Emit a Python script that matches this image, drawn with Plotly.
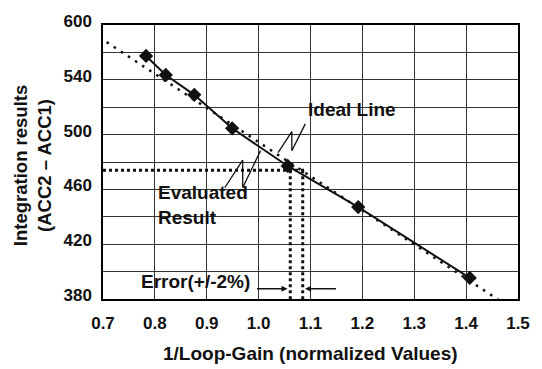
import plotly.graph_objects as go

# ---- data ----
loop_gain = [0.783, 0.821, 0.876, 0.949, 1.056, 1.192, 1.407]
integration = [557.4, 543.5, 529.0, 504.6, 477.1, 447.1, 395.4]

ideal_x = [0.707, 1.47]
ideal_y = [567.5, 377.5]

eval_level = 474.0
error_band = [1.061, 1.085]

x_ticks = [0.7, 0.8, 0.9, 1.0, 1.1, 1.2, 1.3, 1.4, 1.5]
x_ticktext = ["0.7", "0.8", "0.9", "1.0", "1.1", "1.2", "1.3", "1.4", "1.5"]
y_ticks = [380, 400, 420, 440, 460, 480, 500, 520, 540, 560, 580]
y_ticktext = ["380", "", "420", "", "460", "", "500", "", "540", "", "600"]

FONT = "Liberation Sans, Arial, sans-serif"
INK = "#111111"

fig = go.Figure()

# ideal dotted line
fig.add_trace(go.Scatter(x=ideal_x, y=ideal_y, mode="lines",
                         line=dict(color=INK, width=2.5, dash="2.5px,6px"),
                         hoverinfo="skip", showlegend=False))

# evaluated-result guide lines
fig.add_trace(go.Scatter(x=[0.7, error_band[1] + 0.003], y=[eval_level, eval_level],
                         mode="lines", line=dict(color=INK, width=3, dash="3px,3px"),
                         showlegend=False, hoverinfo="skip"))
for xv in error_band:
    fig.add_trace(go.Scatter(x=[xv, xv], y=[eval_level, 378], mode="lines",
                             line=dict(color=INK, width=3, dash="3px,3px"),
                             showlegend=False, hoverinfo="skip"))

# measured curve
fig.add_trace(go.Scatter(x=loop_gain, y=integration, mode="lines+markers",
                         line=dict(color=INK, width=2),
                         marker=dict(symbol="diamond", size=11, color=INK),
                         showlegend=False))

# callout zigzags
fig.add_trace(go.Scatter(x=[1.0375, 1.064, 1.064, 1.090], y=[486.9, 502.2, 488.2, 507.8],
                         mode="lines", line=dict(color=INK, width=1.3),
                         showlegend=False, hoverinfo="skip"))
fig.add_trace(go.Scatter(x=[0.9347, 0.9693, 0.9693, 1.0037], y=[461.2, 481.3, 461.2, 488.3],
                         mode="lines", line=dict(color=INK, width=1.3),
                         showlegend=False, hoverinfo="skip"))

ann_font = dict(family=FONT, size=19, color=INK)
annotations = [
    dict(x=1.091, y=515.5, xref="x", yref="y", text="<b>Ideal Line</b>", yshift=4,
         showarrow=False, xanchor="left", yanchor="middle", font=ann_font),
    dict(x=0.803, y=447, xref="x", yref="y", text="<b>Evaluated<br>Result</b>", yshift=2,
         showarrow=False, xanchor="left", yanchor="middle", align="left", font=ann_font),
    dict(x=0.769, y=392.1, xref="x", yref="y", text="<b>Error(+/-2%)</b>", yshift=1,
         showarrow=False, xanchor="left", yanchor="middle", font=ann_font),
    # arrows
    dict(x=1.0557, y=387.5, ax=0.994, ay=387.5, xref="x", yref="y", axref="x", ayref="y",
         text="", showarrow=True, arrowhead=2, arrowsize=0.8, arrowwidth=1.5, arrowcolor=INK),
    dict(x=1.0895, y=387.5, ax=1.152, ay=387.5, xref="x", yref="y", axref="x", ayref="y",
         text="", showarrow=True, arrowhead=2, arrowsize=0.8, arrowwidth=1.5, arrowcolor=INK),
    # axis titles
    dict(x=0.5, y=-0.2, xref="paper", yref="paper", text="<b>1/Loop-Gain (normalized Values)</b>",
         showarrow=False, xanchor="center", yanchor="middle",
         font=dict(family=FONT, size=19, color=INK)),
    dict(x=-0.171, y=0.485, xref="paper", yref="paper",
         text="<b>Integration results<br>(ACC2 \u2013 ACC1)</b>", textangle=-90,
         showarrow=False, xanchor="center", yanchor="middle",
         font=dict(family=FONT, size=18.5, color=INK)),
]

fig.update_layout(
    width=542, height=369,
    margin=dict(l=103, r=13, t=12, b=70),
    paper_bgcolor="white", plot_bgcolor="white",
    annotations=annotations,
    font=dict(family=FONT, color=INK),
)
fig.update_xaxes(range=[0.7, 1.5], tickvals=x_ticks, ticktext=[f"<b>{t}</b>" for t in x_ticktext],
                 showgrid=True, gridcolor="#333333", gridwidth=1,
                 showline=True, linecolor="black", linewidth=1.5, mirror=True,
                 zeroline=False, ticks="", ticklabelstandoff=8,
                 tickfont=dict(family=FONT, size=17, color=INK))
fig.update_yaxes(range=[380, 580], tickvals=y_ticks,
                 ticktext=[f"<b>{t}</b>" if t else "" for t in y_ticktext],
                 showgrid=True, gridcolor="#333333", gridwidth=1,
                 showline=True, linecolor="black", linewidth=1.5, mirror=True,
                 zeroline=False, ticks="", ticklabelstandoff=6, ticklabelshift=-4,
                 tickfont=dict(family=FONT, size=17, color=INK))

fig.write_html("out.html")
